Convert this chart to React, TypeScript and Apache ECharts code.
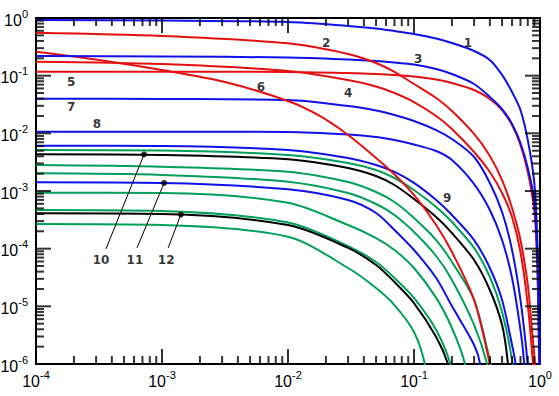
import React, { useEffect, useRef } from "react";
import * as echarts from "echarts";

// ---- data ----
const X_MAIN = [1e-4, 1e-3, 1e-2, 0.03, 0.05, 0.07, 0.1, 0.15, 0.2, 0.3, 0.4, 0.5, 0.6, 0.7, 0.8, 0.9, 0.95, 0.98, 0.995];

const curve1X = [1e-4, 1e-3, 1e-2, 0.03, 0.05, 0.07, 0.1, 0.15, 0.2, 0.3, 0.4, 0.5, 0.6, 0.7, 0.8, 0.9, 0.95, 0.98, 0.995, 0.999];
const curve1Y = [0.923, 0.905, 0.852, 0.727, 0.658, 0.595, 0.528, 0.441, 0.368, 0.268, 0.187, 0.103, 0.0521, 0.0254, 7.66e-3, 1.43e-3, 1.66e-4, 1.29e-5, 2.05e-6, 1e-7];
const curve2X = [1e-4, 1e-3, 1e-2, 0.03, 0.05, 0.07, 0.1, 0.15, 0.2, 0.3, 0.4, 0.5, 0.6, 0.7, 0.8, 0.864, 0.912, 0.93];
const curve2Y = [0.556, 0.488, 0.364, 0.238, 0.166, 0.116, 0.0717, 0.041, 0.0244, 9.75e-3, 4.05e-3, 1.55e-3, 5.07e-4, 1.41e-4, 2.35e-5, 3.89e-6, 1e-6, 3e-7];
const curve3Y = [0.219, 0.215, 0.207, 0.191, 0.18, 0.169, 0.156, 0.1305, 0.107, 0.0717, 0.0427, 0.0264, 0.0145, 6.8e-3, 2.51e-3, 6.98e-4, 7.77e-5, 3.18e-6, 5e-7];
const curve4X = [1e-4, 1e-3, 1e-2, 0.03, 0.05, 0.07, 0.1, 0.15, 0.2, 0.3, 0.4, 0.5, 0.6, 0.7, 0.8, 0.879, 0.9];
const curve4Y = [0.175, 0.159, 0.121, 0.0841, 0.0649, 0.0501, 0.0349, 0.02, 0.0119, 4.75e-3, 2.14e-3, 9.24e-4, 3.54e-4, 8.75e-5, 1.05e-5, 1e-6, 3e-7];
const curve5Y = [0.117, 0.117, 0.116, 0.111, 0.107, 0.103, 0.0967, 0.0858, 0.0746, 0.0565, 0.0394, 0.0254, 0.01395, 6.28e-3, 2.14e-3, 4.69e-4, 5.87e-5, 2.14e-6, 5e-7];
const curve6X = [1e-4, 3.16e-4, 1e-3, 3.16e-3, 0.01, 0.0173, 0.03, 0.05, 0.0707, 0.1, 0.15, 0.2, 0.3, 0.4, 0.43];
const curve6Y = [0.26, 0.187, 0.125, 0.0777, 0.0364, 0.0208, 9.36e-3, 3.74e-3, 1.9e-3, 8.53e-4, 2.57e-4, 8.75e-5, 1.29e-5, 1e-6, 4e-7];
const curve7X = [1e-4, 1e-3, 1e-2, 0.03, 0.05, 0.07, 0.1, 0.15, 0.2, 0.3, 0.4, 0.5, 0.6, 0.7, 0.798, 0.82];
const curve7Y = [0.0399, 0.0394, 0.0379, 0.0298, 0.0249, 0.0208, 0.0164, 0.0114, 7.97e-3, 3.89e-3, 1.38e-3, 4.32e-4, 9.49e-5, 1.29e-5, 1e-6, 3e-7];
const curve8X = [1e-4, 1e-3, 1e-2, 0.03, 0.05, 0.07, 0.1, 0.15, 0.2, 0.3, 0.4, 0.5, 0.6, 0.7, 0.75, 0.77];
const curve8Y = [0.01067, 0.01067, 0.01055, 9.55e-3, 8.65e-3, 7.66e-3, 6.41e-3, 4.94e-3, 3.45e-3, 1.32e-3, 4.69e-4, 1.41e-4, 3.1e-5, 3.89e-6, 1e-6, 3e-7];
const curve9X = [1e-4, 1e-3, 1e-2, 0.03, 0.05, 0.07, 0.1, 0.15, 0.2, 0.3, 0.4, 0.5, 0.6, 0.64, 0.66];
const curve9Y = [6.11e-3, 6.03e-3, 5.14e-3, 3.74e-3, 2.83e-3, 2.14e-3, 1.38e-3, 6.98e-4, 3.84e-4, 1.41e-4, 4.62e-5, 1.29e-5, 2.14e-6, 1e-6, 3e-7];
const greenAX = [1e-4, 1e-3, 1e-2, 0.03, 0.05, 0.07, 0.1, 0.15, 0.2, 0.3, 0.4, 0.5, 0.6, 0.62];
const greenAY = [5.14e-3, 5.04e-3, 4.21e-3, 3.06e-3, 2.31e-3, 1.68e-3, 1.04e-3, 5.28e-4, 2.9e-4, 1.03e-4, 3.23e-5, 7.98e-6, 1.17e-6, 4e-7];
const curve10X = [1e-4, 1e-3, 1e-2, 0.03, 0.05, 0.07, 0.1, 0.15, 0.2, 0.3, 0.4, 0.5, 0.557, 0.6];
const curve10Y = [4.33e-3, 4.21e-3, 3.55e-3, 2.51e-3, 1.82e-3, 1.27e-3, 7.27e-4, 3.54e-4, 1.87e-4, 6.37e-5, 1.92e-5, 4.75e-6, 1e-6, 1e-7];
const greenBX = [1e-4, 1e-3, 1e-2, 0.03, 0.05, 0.07, 0.1, 0.15, 0.2, 0.3, 0.4, 0.45];
const greenBY = [2.83e-3, 2.64e-3, 2.16e-3, 1.43e-3, 9.61e-4, 6.45e-4, 3.4e-4, 1.41e-4, 5.87e-5, 1.29e-5, 1.17e-6, 4e-7];
const greenCX = [1e-4, 1e-3, 1e-2, 0.03, 0.05, 0.07, 0.1, 0.15, 0.2, 0.3, 0.38, 0.4];
const greenCY = [2.03e-3, 1.9e-3, 1.45e-3, 9.23e-4, 5.95e-4, 3.84e-4, 1.95e-4, 7.46e-5, 2.86e-5, 4.75e-6, 1e-6, 4e-7];
const curve11X = [1e-4, 1e-3, 1e-2, 0.03, 0.05, 0.07, 0.1, 0.15, 0.2, 0.3, 0.335, 0.35];
const curve11Y = [1.42e-3, 1.38e-3, 1.07e-3, 6.98e-4, 4.16e-4, 2.11e-4, 9.49e-5, 3.1e-5, 1.01e-5, 2.14e-6, 1e-6, 3e-7];
const greenDX = [1e-4, 1e-3, 1e-2, 0.03, 0.05, 0.07, 0.1, 0.15, 0.2, 0.254, 0.27];
const greenDY = [9.35e-4, 9.23e-4, 6.27e-4, 2.57e-4, 1.53e-4, 9.49e-5, 4.62e-5, 1.4e-5, 4.21e-6, 1e-6, 3e-7];
const greenEX = [1e-4, 1e-3, 1e-2, 0.03, 0.05, 0.07, 0.1, 0.15, 0.195, 0.21];
const greenEY = [4.69e-4, 4.5e-4, 2.84e-4, 1.11e-4, 5.87e-5, 3.1e-5, 1.4e-5, 3.89e-6, 1e-6, 4e-7];
const curve12X = [1e-4, 1e-3, 1e-2, 0.03, 0.05, 0.07, 0.1, 0.15, 0.186, 0.2];
const curve12Y = [4.1e-4, 3.99e-4, 2.57e-4, 1.03e-4, 5.21e-5, 2.64e-5, 1.14e-5, 2.94e-6, 1e-6, 4e-7];
const greenFX = [1e-4, 1e-3, 1e-2, 0.03, 0.05, 0.07, 0.1, 0.122, 0.13];
const greenFY = [2.68e-4, 2.57e-4, 1.61e-4, 4.62e-5, 2.08e-5, 1.05e-5, 3.59e-6, 1e-6, 3e-7];

// curve labels
const labelTexts = ["1", "2", "3", "4", "5", "6", "7", "8", "9", "10", "11", "12"];
const labelX = [0.268, 0.0201, 0.108, 0.03, 1.9e-4, 6.1e-3, 1.9e-4, 3.05e-4, 0.183, 3.28e-4, 6.1e-4, 1.08e-3];
const labelY = [0.368, 0.368, 0.195, 0.0501, 0.0777, 0.0636, 0.0286, 0.0145, 7.56e-4, 6.37e-5, 6.37e-5, 6.37e-5];

// leader lines (label end -> dot on the curve)
const leaderFromX = [3.59e-4, 6.33e-4, 1.12e-3];
const leaderFromY = [9.87e-5, 1.03e-4, 1.03e-4];
const dotX = [7.2e-4, 1.04e-3, 1.41e-3];
const dotY = [4.3e-3, 1.38e-3, 3.9e-4];

// axis decades (major ticks) and minor tick multipliers
const xDecades = [1e-4, 1e-3, 1e-2, 1e-1, 1];
const yDecades = [1e-6, 1e-5, 1e-4, 1e-3, 1e-2, 1e-1, 1];
const minorMults = [2, 3, 4, 5, 6, 7, 8, 9];

const X_MIN = 1e-4, X_MAX = 1, Y_MIN = 1e-6, Y_MAX = 1;

const BLUE = "#1010e8";
const RED = "#e41010";
const GREEN = "#00a05a";
const BLACK = "#000000";

function zip(xs: number[], ys: number[]) {
  return xs.map((x, i) => [x, ys[i]]);
}

export default function App() {
  const ref = useRef<HTMLDivElement>(null);
  useEffect(() => {
    if (!ref.current) return;
    const chart = echarts.init(ref.current, undefined, { renderer: "svg" });

    const curves: [number[], number[], string][] = [
      [greenFX, greenFY, GREEN],
      [greenEX, greenEY, GREEN],
      [curve12X, curve12Y, BLACK],
      [greenDX, greenDY, GREEN],
      [curve11X, curve11Y, BLUE],
      [greenCX, greenCY, GREEN],
      [greenBX, greenBY, GREEN],
      [curve10X, curve10Y, BLACK],
      [greenAX, greenAY, GREEN],
      [curve9X, curve9Y, BLUE],
      [curve8X, curve8Y, BLUE],
      [curve7X, curve7Y, BLUE],
      [curve6X, curve6Y, RED],
      [X_MAIN, curve5Y, RED],
      [curve4X, curve4Y, RED],
      [X_MAIN, curve3Y, BLUE],
      [curve2X, curve2Y, RED],
      [curve1X, curve1Y, BLUE],
    ];

    const series: any[] = [];
    curves.forEach(([xs, ys, color]) => {
      series.push({
        type: "line",
        data: zip(xs, ys),
        showSymbol: false,
        symbol: "none",
        smooth: 0.3,
        lineStyle: { color, width: 2 },
        z: 3,
      });
    });
    for (let i = 0; i < dotX.length; i++) {
      series.push({
        type: "line",
        data: [[leaderFromX[i], leaderFromY[i]], [dotX[i], dotY[i]]],
        showSymbol: false,
        symbol: "none",
        lineStyle: { color: "#000", width: 1 },
        z: 5,
      });
    }

    // tick marks as filled rectangle symbols anchored on the axes
    const eps = 1.0001;
    const tickPts: any[] = [];
    const xTick = (v: number, len: number) => {
      tickPts.push({ value: [v, Y_MIN * eps], symbolSize: [2, len], symbolOffset: [0, -len / 2] });
      tickPts.push({ value: [v, Y_MAX / eps], symbolSize: [2, len], symbolOffset: [0, len / 2] });
    };
    const yTick = (v: number, len: number) => {
      tickPts.push({ value: [X_MIN * eps, v], symbolSize: [len, 2], symbolOffset: [len / 2, 0] });
      tickPts.push({ value: [X_MAX / eps, v], symbolSize: [len, 2], symbolOffset: [-len / 2, 0] });
    };
    xDecades.forEach((d, i) => {
      if (i > 0 && i < xDecades.length - 1) xTick(d, 15);
      if (i < xDecades.length - 1) minorMults.forEach((m) => xTick(m * d, 8));
    });
    yDecades.forEach((d, i) => {
      if (i > 0 && i < yDecades.length - 1) yTick(d, 15);
      if (i < yDecades.length - 1) minorMults.forEach((m) => yTick(m * d, 8));
    });
    series.push({
      type: "scatter",
      data: tickPts,
      symbol: "rect",
      clip: false,
      itemStyle: { color: "#000" },
      z: 6,
    });

    series.push({
      type: "scatter",
      data: zip(dotX, dotY),
      symbol: "circle",
      symbolSize: 6,
      itemStyle: { color: "#000" },
      z: 6,
    });
    series.push({
      type: "scatter",
      data: labelX.map((x, i) => ({ value: [x, labelY[i]], name: labelTexts[i] })),
      symbolSize: 0,
      z: 7,
      label: {
        show: true,
        position: "inside",
        formatter: (p: any) => p.name,
        fontFamily: "'DejaVu Sans', Verdana, sans-serif",
        fontWeight: "bold",
        fontSize: 12,
        color: "#000",
      },
    });

    const labelRich = {
      b: { fontSize: 16, fontFamily: "'Liberation Sans Narrow', 'Liberation Sans', Arial, sans-serif", color: "#000", padding: [4, 0, 0, 0] },
      s: { fontSize: 11, fontFamily: "'Liberation Sans', Arial, sans-serif", color: "#000", verticalAlign: "top" },
    };
    const fmt = (v: number) => `{b|10}{s|${Math.round(Math.log10(v))}}`;

    const axisCommonX = {
      type: "log",
      logBase: 10,
      min: X_MIN,
      max: X_MAX,
      splitNumber: 4,
      splitLine: { show: false },
      axisLine: { show: true, onZero: false, lineStyle: { color: "#000", width: 2 } },
      axisTick: { show: false },
    };
    const axisCommonY = {
      type: "log",
      logBase: 10,
      min: Y_MIN,
      max: Y_MAX,
      splitNumber: 6,
      splitLine: { show: false },
      axisLine: { show: true, onZero: false, lineStyle: { color: "#000", width: 2 } },
      axisTick: { show: false },
    };

    chart.setOption({
      animation: false,
      backgroundColor: "#ffffff",
      grid: { left: 36, top: 18, right: 19, bottom: 32, containLabel: false, outerBoundsMode: "none" },
      xAxis: [
        { ...axisCommonX, position: "bottom", axisLabel: { show: true, margin: 5, formatter: fmt, rich: labelRich } },
        { ...axisCommonX, position: "top", axisLabel: { show: false } },
      ],
      yAxis: [
        { ...axisCommonY, position: "left", axisLabel: { show: true, margin: 8, formatter: fmt, rich: labelRich } },
        { ...axisCommonY, position: "right", axisLabel: { show: false } },
      ],
      series,
    });

    return () => chart.dispose();
  }, []);
  return <div ref={ref} style={{ position: "absolute", left: 0, top: 0, width: 559, height: 396, background: "#fff" }} />;
}
